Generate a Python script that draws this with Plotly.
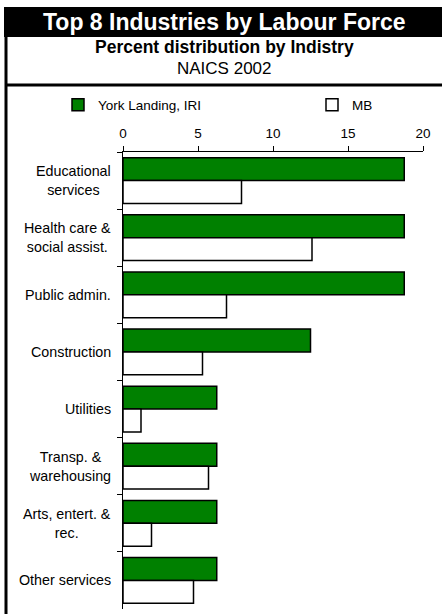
import plotly.graph_objects as go

# Data
industries = [
    "Educational<br>services",
    "Health care &<br>social assist.",
    "Public admin.",
    "Construction",
    "Utilities",
    "Transp. &<br>warehousing",
    "Arts, entert. &<br>rec.",
    "Other services",
]
york_landing = [18.75, 18.75, 18.75, 12.5, 6.25, 6.25, 6.25, 6.25]
manitoba = [7.9, 12.6, 6.9, 5.3, 1.2, 5.7, 1.9, 4.7]
x_ticks = [0, 5, 10, 15, 20]

W, H = 442, 614
L, R, T, B = 123, 19, 152, 5
PW, PH = W - L - R, H - T - B
FONT = "Liberation Sans, Arial, sans-serif"


def px_x(p):
    return (p - L) / PW


def px_y(p):
    return (H - B - p) / PH


fig = go.Figure()
fig.add_trace(go.Bar(
    y=industries, x=york_landing, orientation="h", name="York Landing, IRI",
    marker=dict(color="#008000", line=dict(color="black", width=1.5)),
    legend="legend",
))
fig.add_trace(go.Bar(
    y=industries, x=manitoba, orientation="h", name="MB",
    marker=dict(color="white", line=dict(color="black", width=1.5)),
    legend="legend2",
))

# category labels, centred line by line like the original
for name in industries:
    fig.add_annotation(
        x=px_x(113), xref="paper", y=name, yref="y",
        text=name, showarrow=False, xanchor="right", yanchor="middle", align="center",
        font=dict(size=14.3, color="black"),
    )

# frame: black title band, left rule and the rule under the subtitles
shapes = [
    dict(type="rect", x0=px_x(4), x1=px_x(450), y0=px_y(7), y1=px_y(37),
         fillcolor="black", line=dict(width=0)),
    dict(type="line", x0=px_x(6), x1=px_x(6), y0=px_y(7), y1=px_y(616),
         line=dict(color="black", width=3)),
    dict(type="line", x0=px_x(5), x1=px_x(450), y0=px_y(85), y1=px_y(85),
         line=dict(color="black", width=3)),
]
for s in shapes:
    s.update(xref="paper", yref="paper", layer="above")
fig.update_layout(shapes=shapes)

titles = [
    ("<b>Top 8 Industries by Labour Force</b>", 22, 23, "white"),
    ("<b>Percent distribution by Indistry</b>", 47, 17.5, "black"),
    ("NAICS 2002", 68, 17, "black"),
]
for text, ypx, size, color in titles:
    fig.add_annotation(x=px_x(224), y=px_y(ypx), xref="paper", yref="paper",
                       text=text, showarrow=False, xanchor="center", yanchor="middle",
                       font=dict(size=size, color=color))

legend_style = dict(orientation="h", yanchor="middle", xanchor="left", y=px_y(105),
                    itemclick=False, font=dict(size=13.5), bgcolor="rgba(0,0,0,0)")

fig.update_layout(
    width=W, height=H,
    margin=dict(l=L, r=R, t=T, b=B),
    paper_bgcolor="white", plot_bgcolor="white",
    font=dict(family=FONT, size=13.5, color="black"),
    barmode="group", bargap=0.2, bargroupgap=0,
    showlegend=True,
    legend=dict(x=px_x(58), **legend_style),
    legend2=dict(x=px_x(312), **legend_style),
    xaxis=dict(side="top", range=[0, 20], tickvals=x_ticks, ticks="outside", ticklen=5,
               ticklabelstandoff=3,
               showline=True, linecolor="black", linewidth=1, showgrid=False,
               zeroline=False, tickcolor="black"),
    yaxis=dict(autorange="reversed", showticklabels=False, ticks="outside", ticklen=5,
               tickson="boundaries", showline=True, linecolor="black", linewidth=1,
               showgrid=False, tickcolor="black"),
)

fig.write_html("out.html", config={"displayModeBar": False},
               post_script="document.body.style.margin='0';")
